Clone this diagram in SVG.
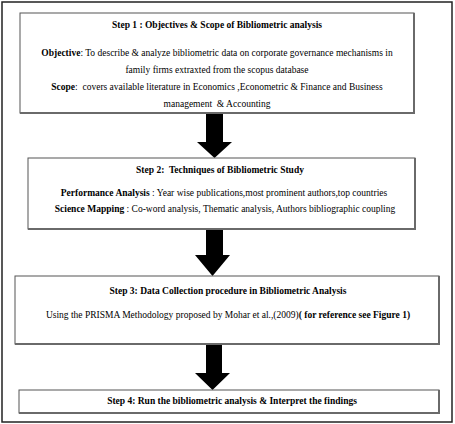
<svg xmlns="http://www.w3.org/2000/svg" width="455" height="424" viewBox="0 0 455 424">
<style>
.box{fill:#fff;stroke:#555;stroke-width:1}
.sh{fill:none;stroke:#6a6a6a;stroke-width:2}
text{font-family:"Liberation Serif","Times New Roman",serif;font-size:9.5px;fill:#000;text-anchor:middle}
.b{font-weight:bold}
.arr{fill:#000}
</style>
<rect x="0" y="0" width="455" height="424" fill="#fff"/>
<rect x="2" y="2" width="450" height="420" fill="none" stroke="#222" stroke-width="1.5"/>
<g id="connectors">
<path class="arr" d="M206,113 H223 V142 H232 L214.5,158 L197,142 H206 Z"/>
<path class="arr" d="M206,229 H223 V255 H230 L212.5,276 L195,255 H206 Z"/>
<path class="arr" d="M206,344 H222 V373 H230 L212.5,390 L195,373 H206 Z"/>
</g>
<g id="step1">
<rect class="box" x="20" y="13" width="394" height="100"/>
<path class="sh" d="M414,13 V113 H20"/>
<text class="b" x="217" y="28">Step 1 : Objectives &amp; Scope of Bibliometric analysis</text>
<text x="217" y="56"><tspan class="b">Objective</tspan>: To describe &amp; analyze bibliometric data on corporate governance mechanisms in</text>
<text x="217" y="73">family firms extraxted from the scopus database</text>
<text x="217" y="90" xml:space="preserve"><tspan class="b">Scope</tspan>:  covers available literature in Economics ,Econometric &amp; Finance and Business</text>
<text x="217" y="107" xml:space="preserve">management  &amp; Accounting</text>
</g>
<g id="step2">
<rect class="box" x="28" y="158" width="387" height="71"/>
<path class="sh" d="M415,158 V229 H28"/>
<text class="b" x="220" y="173" xml:space="preserve">Step 2:  Techniques of Bibliometric Study</text>
<text x="224" y="196"><tspan class="b">Performance Analysis</tspan> : Year wise publications,most prominent authors,top countries</text>
<text x="225" y="212"><tspan class="b">Science Mapping</tspan> : Co-word analysis, Thematic analysis, Authors bibliographic coupling</text>
</g>
<g id="step3">
<rect class="box" x="15" y="276" width="424" height="68"/>
<path class="sh" d="M439,276 V344 H15"/>
<text class="b" x="228" y="294">Step 3: Data Collection procedure in Bibliometric Analysis</text>
<text x="228" y="318">Using the PRISMA Methodology proposed by Mohar et al.,(2009)<tspan class="b">( for reference see Figure 1)</tspan></text>
</g>
<g id="step4">
<rect class="box" x="19" y="390" width="420" height="23"/>
<path class="sh" d="M439,390 V413 H19"/>
<text class="b" x="232" y="404">Step 4: Run the bibliometric analysis &amp; Interpret the findings</text>
</g>
</svg>
